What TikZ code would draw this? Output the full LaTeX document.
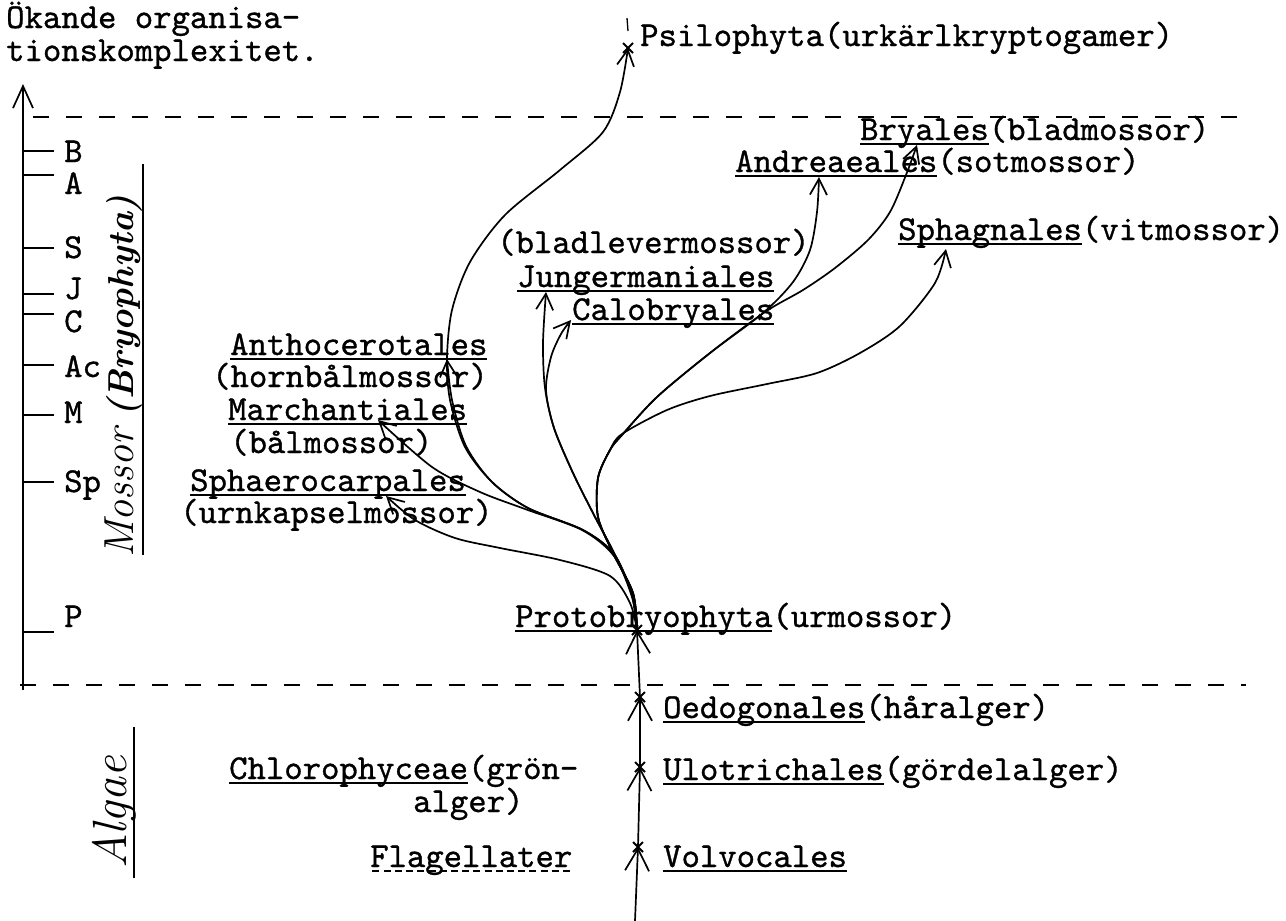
\documentclass[tikz,border=0pt]{standalone}
\usepackage{fontspec}
\usetikzlibrary{arrows.meta}
\newfontfamily\twfam{lmmono10-regular.otf}[FakeBold=0.9]
\newcommand\twfont{\twfam\fontsize{35}{40}\selectfont}
\newcommand\myul[1]{\setbox0=\hbox{#1}\rlap{\rule[-4.5pt]{\wd0}{1.9pt}}\box0}
\newcommand\mydul[1]{\setbox0=\hbox{#1}\rlap{\hbox to \wd0{\xleaders\hbox to 11pt{\hfil\rule[-4.5pt]{7pt}{1.9pt}\hfil}\hfil}}\box0}
\tikzset{
  lnk/.style={line width=1.7pt},
  hd/.style={-{Straight Barb[length=16pt,width=17pt]}},
  bighd/.style={-{Straight Barb[length=22pt,width=24pt]}},
  lbl/.style={anchor=base west, inner sep=0pt, font=\twfont},
  xm/.style={line width=2pt},
  dsh/.style={line width=1.8pt, dash pattern=on 16pt off 17pt},
  tick/.style={line width=1.7pt},
  hand/.style={rotate=90, inner sep=0pt},
}
\begin{document}
\begin{tikzpicture}[x=1pt,y=-1pt]
\fill[white] (0,0) rectangle (1286,921);
\useasboundingbox (0,0) rectangle (1286,921);

% title
\node[lbl] (t1) at (6,28) {Ökande organisa-};
\node[lbl] (t2) at (6,61) {tionskomplexitet.};

% axis
\coordinate (ax0) at (23,690);
\coordinate (ax1) at (23,84);
\draw[line width=1.7pt, -{Straight Barb[length=22pt,width=20pt]}] (ax0) -- (ax1);
\foreach \y/\t/\b in {151/B/162, 175/A/194, 248/S/258, 294/J/299, 314/C/332, 365/Ac/377, 415/M/423, 482/Sp/492, 632/P/627}{
  \draw[tick] (23,\y) -- (54,\y);
  \node[lbl] (ax\t) at (64,\b) {\t};
}

% dashed boundaries
\draw[dsh] (33,117) -- (1242,117);
\draw[dsh] (20,685) -- (1246,685);

% handwritten labels
\node[hand, font=\itshape\fontsize{42}{44}\selectfont] (mossor) at (119,493) {Mossor};
\node[hand, font=\bfseries\itshape\fontsize{36}{40}\selectfont] (bryo) at (124,306) {(Bryophyta)};
\draw[line width=1.8pt] (143,164) -- (143,555);
\node[hand, font=\itshape\fontsize{48}{50}\selectfont] (algae) at (114,812) {Algae};
\draw[line width=1.8pt] (134,727) -- (134,878);

% labels
\node[lbl] (psi) at (640,46) {Psilophyta(urkärlkryptogamer)};
\node[lbl] (bry) at (860,140) {\myul{Bryales}(bladmossor)};
\node[lbl] (and) at (735,172) {\myul{Andreaeales}(sotmossor)};
\node[lbl] (sphg) at (898,240) {\myul{Sphagnales}(vitmossor)};
\node[lbl] (blv) at (497,253) {(bladlevermossor)};
\node[lbl] (jun) at (517,287) {\myul{Jungermaniales}};
\node[lbl] (cal) at (572,320) {\myul{Calobryales}};
\node[lbl] (ant) at (230,355) {\myul{Anthocerotales}};
\node[lbl] (hbm) at (212,387) {(hornbålmossor)};
\node[lbl] (mar) at (228,420) {\myul{Marchantiales}};
\node[lbl] (bm) at (230,453) {(bålmossor)};
\node[lbl] (sph) at (190,491) {\myul{Sphaerocarpales}};
\node[lbl] (ukm) at (180,523) {(urnkapselmossor)};
\node[lbl] (pro) at (515,627) {\myul{Protobryophyta}(urmossor)};
\node[lbl] (oed) at (663,718) {\myul{Oedogonales}(håralger)};
\node[lbl] (ulo) at (663,780) {\myul{Ulotrichales}(gördelalger)};
\node[lbl] (vol) at (663,867) {\myul{Volvocales}};
\node[lbl] (chl) at (229,779) {\myul{Chlorophyceae}(grön-};
\node[lbl] (chl2) at (413,812) {alger)};
\node[lbl] (fla) at (370,867) {\mydul{Flagellater}};

% connector end points
\coordinate (fk) at (637,630);
\coordinate (bot) at (635,921);
\coordinate (tVol) at (638,847);
\coordinate (tUlo) at (640,767);
\coordinate (tOed) at (640,697);
\coordinate (tPsi) at (628,48);
\coordinate (tBry) at (917,145);
\coordinate (tAnd) at (819,177);
\coordinate (tSphg) at (946,249);
\coordinate (tJun) at (546,292);
\coordinate (tCal) at (571,320);
\coordinate (tAnt) at (447,359);
\coordinate (tMar) at (378,420);
\coordinate (tSph) at (386,496);

% algae stem
\draw[lnk,bighd] (bot) -- (tVol);
\draw[lnk,bighd] (tVol) -- (tUlo);
\draw[lnk,bighd] (tUlo) -- (tOed);
\draw[lnk,bighd] (tOed) -- (fk);
\foreach \c in {tVol,tUlo,tOed,fk,tPsi}{
  \draw[xm] (\c) +(-5,-5) -- +(5,5) +(-5,5) -- +(5,-5);
}
\draw[line width=1.3pt] (627,18) -- (628,31);

% moss branches
\draw[lnk,hd] plot[smooth] coordinates {(fk) (630,603) (610,576) (560,560) (500,548) (455,538) (415,520) (tSph)};
\draw[lnk,hd] plot[smooth] coordinates {(fk) (632,597) (614,556) (582,530) (525,509) (480,492) (432,467) (tMar)};
\draw[lnk,hd] plot[smooth] coordinates {(fk) (632,595) (614,554) (583,530) (528,508) (492,482) (465,447) (450,400) (447,358) (452,310) (470,262) (505,215) (560,170) (603,132) (620,92) (tPsi)};
\draw[lnk,hd] plot[smooth] coordinates {(fk) (632,595) (614,554) (583,530) (528,508) (492,482) (466,446) (452,400) (tAnt)};
\draw[lnk,hd] plot[smooth] coordinates {(fk) (633,595) (614,553) (594,515) (573,473) (554,428) (545,388) (543,343) (tJun)};
\draw[lnk,hd] plot[smooth] coordinates {(fk) (633,595) (614,553) (594,515) (573,473) (554,428) (546,390) (551,357) (561,334) (tCal)};
\draw[lnk,hd] plot[smooth] coordinates {(fk) (633,593) (613,553) (598,517) (598,478) (610,450) (622,435) (657,397) (710,353) (763,313) (793,282) (810,250) (817,212) (tAnd)};
\draw[lnk,hd] plot[smooth] coordinates {(fk) (633,593) (613,553) (598,517) (598,478) (610,450) (622,435) (657,397) (710,353) (765,312) (803,290) (835,268) (868,240) (890,212) (906,175) (tBry)};
\draw[lnk,hd] plot[smooth] coordinates {(fk) (633,593) (613,553) (598,517) (598,478) (610,450) (622,434) (667,410) (710,396) (767,384) (817,373) (860,353) (900,326) (935,283) (tSphg)};
\end{tikzpicture}
\end{document}
